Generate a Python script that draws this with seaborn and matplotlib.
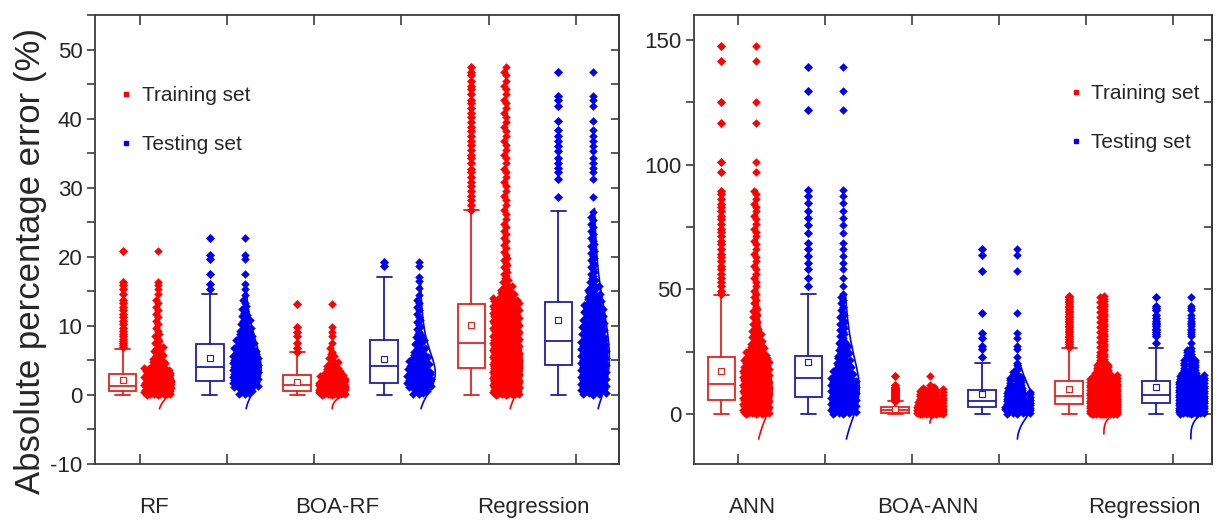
#!/usr/bin/env python3
"""Absolute percentage error of the RF / ANN models: box + jittered points + density."""

import warnings
import numpy as np
import matplotlib
matplotlib.use("Agg")
import matplotlib.pyplot as plt
from matplotlib.lines import Line2D
from matplotlib.ticker import MultipleLocator
import seaborn as sns

warnings.filterwarnings("ignore")

# ---- data --------------------------------------------------------------------
# box: [whisker low, Q1, median, Q3, whisker high, mean]
# counts: points per bin (bin i covers [i*w, (i+1)*w)), extra: isolated points
rf_train_box = [0, 0.5, 1.35, 3.0, 6.7, 2.2]
rf_train_counts = [40, 40, 30, 20, 8, 6, 5, 3, 3, 2, 2, 2, 2, 2]
rf_train_extra = [14.6, 15.3, 15.9, 16.3, 20.9]

rf_test_box = [0, 2.0, 4.1, 7.3, 14.6, 5.3]
rf_test_counts = [8, 14, 16, 16, 15, 14, 12, 10, 8, 6, 5, 4, 3, 2, 1]
rf_test_extra = [15.4, 16.1, 17.5, 19.7, 20.2, 22.7]

boarf_train_box = [0, 0.58, 1.44, 2.9, 6.15, 1.9]
boarf_train_counts = [45, 40, 14, 9, 6, 4, 2, 1, 1]
boarf_train_extra = [9.1, 9.8, 13.2]

boarf_test_box = [0, 1.7, 4.2, 7.9, 17.0, 5.2]
boarf_test_counts = [8, 13, 13, 12, 11, 9, 6, 5, 4, 3, 3, 2, 2, 2, 1, 1, 1]
boarf_test_extra = [17.0, 18.7, 19.2]

reg_train_box = [0, 3.95, 7.45, 13.1, 26.7, 10.1]
reg_train_counts = [40, 45, 45, 45, 42, 40, 36, 33, 30, 27, 24, 22, 20, 18,
                    8, 6, 4, 3, 3, 3, 2, 2, 2, 2, 2, 1, 2,
                    1, 2, 1, 2, 1, 2, 1, 2, 1, 2, 1, 2, 1, 2, 1, 2, 1, 2, 1, 2]
reg_train_extra = [47.5]

reg_test_box = [0, 4.3, 7.8, 13.4, 26.6, 10.8]
reg_test_counts = [14, 16, 16, 16, 15, 15, 14, 13, 12, 12, 11, 10, 10, 8, 7,
                   6, 4, 3, 3, 3, 3, 3, 2, 2, 2, 2, 1]
reg_test_extra = [28.7, 31.2, 32.2, 32.9, 33.6, 34.3, 35.3, 36.0, 36.7, 37.5,
                  38.4, 39.6, 41.8, 42.7, 43.2, 46.8]

ann_train_box = [0, 5.6, 12.0, 22.7, 47.7, 17.4]
ann_train_counts = [30, 30, 28, 26, 24, 20, 18, 15, 13, 10, 8, 6, 5, 4, 3, 3,
                    3, 2, 2, 2, 1, 2, 1, 2, 1, 2, 1, 2, 1, 2, 1, 2, 1, 2, 1, 2]
ann_train_extra = [96.9, 100.9, 116.7, 125.3, 141.7, 147.6]

ann_test_box = [0, 6.9, 14.3, 23.3, 48.0, 20.7]
ann_test_counts = [16, 16, 15, 14, 13, 12, 10, 8, 7, 6, 5, 4, 3, 3, 3, 3, 2, 2, 2]
ann_test_extra = [48.0, 51.3, 54.7, 58.0, 60.7, 63.3, 66.0, 68.7, 72.7, 76.0,
                  78.7, 81.3, 84.7, 87.3, 90.0, 122.0, 129.6, 139.0]

boaann_train_box = [0, 0.4, 1.6, 2.7, 5.3, 2.0]
boaann_train_counts = [30, 25, 20, 15, 10, 8, 7, 6, 6, 5, 3, 1]
boaann_train_extra = [15.3]

boaann_test_box = [0, 2.7, 5.3, 9.6, 20.3, 8.0]
boaann_test_counts = [8, 10, 10, 9, 8, 7, 6, 5, 5, 4, 4, 3, 3, 3, 3, 2, 2, 1, 1, 1]
boaann_test_extra = [20.3, 22.7, 26.0, 27.3, 30.7, 32.7, 40.7, 57.3, 63.6, 66.0]

left_methods = ["RF", "BOA-RF", "Regression"]
right_methods = ["ANN", "BOA-ANN", "Regression"]
set_names = ["Training set", "Testing set"]

# ---- style ---------------------------------------------------------------------
RED = "#FF0000"
BLUE = "#0000F5"
RED_BOX = "#E8201A"
BLUE_BOX = "#1C1CB4"
SPINE = "#3C3C3C"

STEP = 5.0       # distance between method groups
CLOUD_DX = 1.0   # box -> its point cloud
TEST_DX = 2.5    # training -> testing
SPAN_MAX = 27    # widest spread of a point cloud, px
SPREAD = 14      # px of spread per (point / px of height)
GOLD = 0.6180339887


def expand(counts, extra, bin_w):
    """Turn per-bin counts into point values spread through each bin."""
    vals = [i * bin_w + (np.arange(n) + 0.5) / n * bin_w
            for i, n in enumerate(counts) if n > 0]
    vals.append(np.asarray(extra, dtype=float))
    return np.concatenate(vals)


def cloud_x(ax, counts, extra, bin_w, center):
    """Horizontal spread of each bin grows with its point density."""
    p0, p1 = ax.transData.transform([(0, 0), (1, 1)])
    x_px, y_px = abs(p1 - p0)
    xs = []
    for n in counts:
        if n == 0:
            continue
        span = min(SPAN_MAX, SPREAD * n / (bin_w * y_px)) / x_px
        u = (np.arange(n) * GOLD + 0.5) % 1.0
        xs.append(center + span * (u - 0.5))
    xs.append(np.full(len(extra), center))
    return np.concatenate(xs)


def draw_set(ax, pos, series, color, box_color, floor):
    box, counts, extra, bin_w = series
    vals = expand(counts, extra, bin_w)
    lo, q1, med, q3, hi, mean = box
    stats = dict(whislo=lo, q1=q1, med=med, q3=q3, whishi=hi, mean=mean,
                 fliers=vals[vals > hi])
    line = dict(color=box_color, linewidth=1.3)
    ax.bxp([stats], positions=[pos], widths=0.78, capwidths=0.43,
           showmeans=True, manage_ticks=False, patch_artist=True,
           boxprops=dict(facecolor="none", edgecolor=box_color, linewidth=1.3),
           medianprops=line, whiskerprops=line, capprops=line,
           flierprops=dict(marker="D", markersize=3.8, markerfacecolor=color,
                           markeredgecolor=color, markeredgewidth=0.6,
                           linestyle="none"),
           meanprops=dict(marker="s", markersize=4, markerfacecolor="white",
                          markeredgecolor=box_color, markeredgewidth=0.8))

    cloud = pos + CLOUD_DX
    sns.scatterplot(x=cloud_x(ax, counts, extra, bin_w, cloud), y=vals,
                    color=color, marker="D", s=19, linewidth=0, legend=False,
                    ax=ax)

    # half density curve on the right of the cloud, over the dense part only
    bw = 1.06 * vals.std() * len(vals) ** (-0.2)
    grid = np.linspace(max(vals.min() - 3 * bw, floor), len(counts) * bin_w, 400)
    dens = np.exp(-0.5 * ((grid[:, None] - vals[None, :]) / bw) ** 2).sum(axis=1)
    ax.plot(cloud + 0.47 * dens / dens.max(), grid, color=color, linewidth=1.2)


def draw_panel(ax, groups, floor):
    for k, (train, test) in enumerate(groups):
        base = k * STEP
        draw_set(ax, base, train, RED, RED_BOX, floor)
        draw_set(ax, base + TEST_DX, test, BLUE, BLUE_BOX, floor)


def style_panel(ax, major, minor, methods, label_x, legend_xy):
    ax.set_xlabel("")
    ax.set_ylabel("")
    ax.yaxis.set_major_locator(MultipleLocator(major))
    ax.yaxis.set_minor_locator(MultipleLocator(minor))
    ax.set_xticks(label_x)
    ax.set_xticklabels(methods)
    ax.set_xticks(np.arange(6) * TEST_DX + CLOUD_DX / 2, minor=True)
    ax.tick_params(axis="x", which="major", length=0, pad=24, labelsize=16)
    ax.tick_params(axis="x", which="minor", direction="in", length=7,
                   width=1.2, top=True, bottom=True, color=SPINE)
    ax.tick_params(axis="y", which="both", direction="out", length=6,
                   width=1.2, labelsize=16, color=SPINE, pad=3)
    for s in ax.spines.values():
        s.set_visible(True)
        s.set_color(SPINE)
        s.set_linewidth(1.3)

    sec = ax.secondary_yaxis("right")
    sec.yaxis.set_major_locator(MultipleLocator(minor))
    sec.tick_params(direction="in", length=6, width=1.2, labelright=False,
                    color=SPINE)
    sec.spines["right"].set_color(SPINE)
    sec.spines["right"].set_linewidth(1.3)

    handles = [Line2D([], [], marker="s", linestyle="none", markersize=2.6,
                      color=c) for c in (RED, BLUE)]
    ax.legend(handles, set_names, loc="upper left", bbox_to_anchor=legend_xy,
              frameon=False, fontsize=15, handlelength=0.5, handletextpad=0.5,
              labelspacing=1.45, borderpad=0, borderaxespad=0)


sns.set_theme(style="ticks")
plt.rcParams["font.family"] = ["Liberation Sans", "DejaVu Sans"]
plt.rcParams["axes.unicode_minus"] = False

fig = plt.figure(figsize=(12.25, 5.2), dpi=100)
ax_l = fig.add_axes([0.0776, 0.1077, 0.4278, 0.8635])
ax_r = fig.add_axes([0.5665, 0.1077, 0.4229, 0.8635])
ax_l.set_xlim(-0.80, 14.25)
ax_l.set_ylim(-10, 55)
ax_r.set_xlim(-0.78, 14.11)
ax_r.set_ylim(-20, 160)

rf_train = (rf_train_box, rf_train_counts, rf_train_extra, 1.0)
rf_test = (rf_test_box, rf_test_counts, rf_test_extra, 1.0)
boarf_train = (boarf_train_box, boarf_train_counts, boarf_train_extra, 1.0)
boarf_test = (boarf_test_box, boarf_test_counts, boarf_test_extra, 1.0)
reg_train = (reg_train_box, reg_train_counts, reg_train_extra, 1.0)
reg_test = (reg_test_box, reg_test_counts, reg_test_extra, 1.0)
ann_train = (ann_train_box, ann_train_counts, ann_train_extra, 2.5)
ann_test = (ann_test_box, ann_test_counts, ann_test_extra, 2.5)
boaann_train = (boaann_train_box, boaann_train_counts, boaann_train_extra, 1.0)
boaann_test = (boaann_test_box, boaann_test_counts, boaann_test_extra, 1.0)

draw_panel(ax_l, [(rf_train, rf_test), (boarf_train, boarf_test),
                  (reg_train, reg_test)], floor=-2)
draw_panel(ax_r, [(ann_train, ann_test), (boaann_train, boaann_test),
                  (reg_train, reg_test)], floor=-10)

ax_l.set_xlim(-0.80, 14.25)
ax_l.set_ylim(-10, 55)
ax_r.set_xlim(-0.78, 14.11)
ax_r.set_ylim(-20, 160)
style_panel(ax_l, 10, 5, left_methods, [0.88, 6.15, 11.78], (0.049, 0.842))
style_panel(ax_r, 50, 25, right_methods, [0.89, 5.95, 12.18], (0.727, 0.846))

ax_l.set_ylabel("Absolute percentage error (%)", fontsize=25)
ax_l.yaxis.set_label_coords(-0.092, 0.452)

fig.savefig("out.png", dpi=100)
